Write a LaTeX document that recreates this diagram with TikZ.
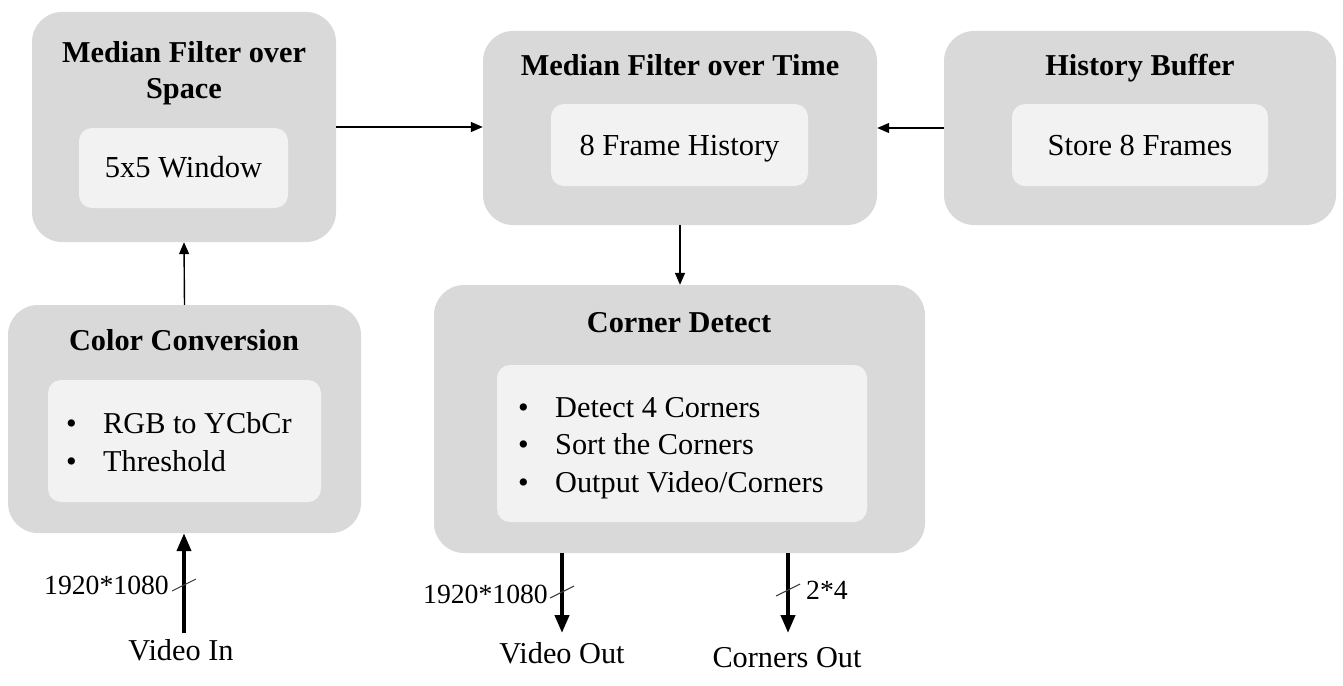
\documentclass[tikz,border=0pt]{standalone}
\usepackage{fontspec}
\setmainfont{Liberation Serif}
\usetikzlibrary{arrows.meta}
\definecolor{outergray}{HTML}{D9D9D9}
\definecolor{innergray}{HTML}{F2F2F2}
\tikzset{
  outerbox/.style={rectangle, fill=outergray, rounded corners=30pt, inner sep=0pt},
  innerbox/.style={rectangle, fill=innergray, rounded corners=13pt, inner sep=0pt},
  boxtext/.style={font=\fontsize{30.5}{38}\selectfont, inner sep=0pt, text height=20pt, text depth=0pt},
  titletext/.style={font=\fontsize{30.3}{36}\selectfont\bfseries, align=center, inner sep=0pt},
  onetitle/.style={titletext, text height=20pt, text depth=0pt},
  listtext/.style={font=\fontsize{30.3}{37.5}\selectfont, align=left, inner sep=0pt, anchor=west},
  labeltext/.style={font=\fontsize{30.3}{34}\selectfont, inner sep=0pt},
  sizetext/.style={font=\fontsize{27.7}{32}\selectfont, inner sep=0pt},
  thinarrow/.style={line width=1.4pt, -{Triangle[length=12pt,width=10pt]}},
  thickarrow/.style={line width=4pt, -{Triangle[length=18pt,width=14pt]}},
  slash/.style={line width=1.1pt, black!75},
}
\newcommand{\bul}{\makebox[37pt][l]{\textbullet}}
\begin{document}
\begin{tikzpicture}[x=1pt,y=-1pt]
\useasboundingbox (0,0) rectangle (1343,685);
% Median filter over space
\node[outerbox, minimum width=304pt, minimum height=230pt] (mfs) at (184,127) {};
\node[innerbox, minimum width=209pt, minimum height=80pt] (mfsin) at (183.5,168) {};
\node[boxtext] (mfsint) at (183.5,167) {5x5 Window};
\node[titletext] (mfst) at (184,73) {Median Filter over\\Space};
% Median filter over time
\node[outerbox, minimum width=394pt, minimum height=194pt] (mft) at (680,128) {};
\node[innerbox, minimum width=257pt, minimum height=82pt] (mftin) at (679.5,145) {};
\node[boxtext] (mftint) at (679.5,145) {8 Frame History};
\node[onetitle] (mftt) at (680,65) {Median Filter over Time};
% History buffer
\node[outerbox, minimum width=392pt, minimum height=194pt] (hb) at (1140,128) {};
\node[innerbox, minimum width=256pt, minimum height=82pt] (hbin) at (1140,145) {};
\node[boxtext] (hbint) at (1140,145) {Store 8 Frames};
\node[onetitle] (hbt) at (1140,65) {History Buffer};
% Color conversion
\node[outerbox, minimum width=353pt, minimum height=228pt] (cc) at (184.5,419) {};
\node[innerbox, minimum width=273pt, minimum height=122pt] (ccin) at (184.5,441) {};
\node[onetitle] (cct) at (184,340) {Color Conversion};
\node[listtext] (ccl) at (66,442) {\bul RGB to YCbCr\\\bul Threshold};
% Corner detect
\node[outerbox, minimum width=491pt, minimum height=268pt] (cd) at (679.5,419) {};
\node[innerbox, minimum width=370pt, minimum height=157pt] (cdin) at (682,443.5) {};
\node[onetitle] (cdt) at (679,322) {Corner Detect};
\node[listtext] (cdl) at (518,448) {\bul Detect 4 Corners\\\bul Sort the Corners\\\bul Output Video/Corners};
% connectors between blocks
\draw[thinarrow] (mfs.east) -- (mfs.east -| mft.west);
\draw[thinarrow] (hb.west) -- (mft.east);
\draw[thinarrow] (cc.north) -- (mfs.south);
\draw[thinarrow] (mft.south) -- (mft.south |- cd.north);
% Video in
\coordinate (vin) at (184,633);
\coordinate (vins) at (184,585);
\draw[thickarrow] (vin) -- (vin |- cc.south);
\draw[slash] (vins) ++(-12,6) -- ++(24,-12);
\node[sizetext, anchor=east] (vinsz) at (169,585) {1920*1080};
\node[labeltext] (vinl) at (181,650) {Video In};
% Video out
\coordinate (vout) at (562,633);
\coordinate (vouts) at (562,592);
\draw[thickarrow] (vout |- cd.south) -- (vout);
\draw[slash] (vouts) ++(-12,6) -- ++(24,-12);
\node[sizetext, anchor=east] (voutsz) at (548,594) {1920*1080};
\node[labeltext] (voutl) at (562,653) {Video Out};
% Corners out
\coordinate (cout) at (788,633);
\coordinate (couts) at (788,590);
\draw[thickarrow] (cout |- cd.south) -- (cout);
\draw[slash] (couts) ++(-12,6) -- ++(24,-12);
\node[sizetext, anchor=west] (coutsz) at (806,590) {2*4};
\node[labeltext] (coutl) at (787,658) {Corners Out};
\end{tikzpicture}
\end{document}
